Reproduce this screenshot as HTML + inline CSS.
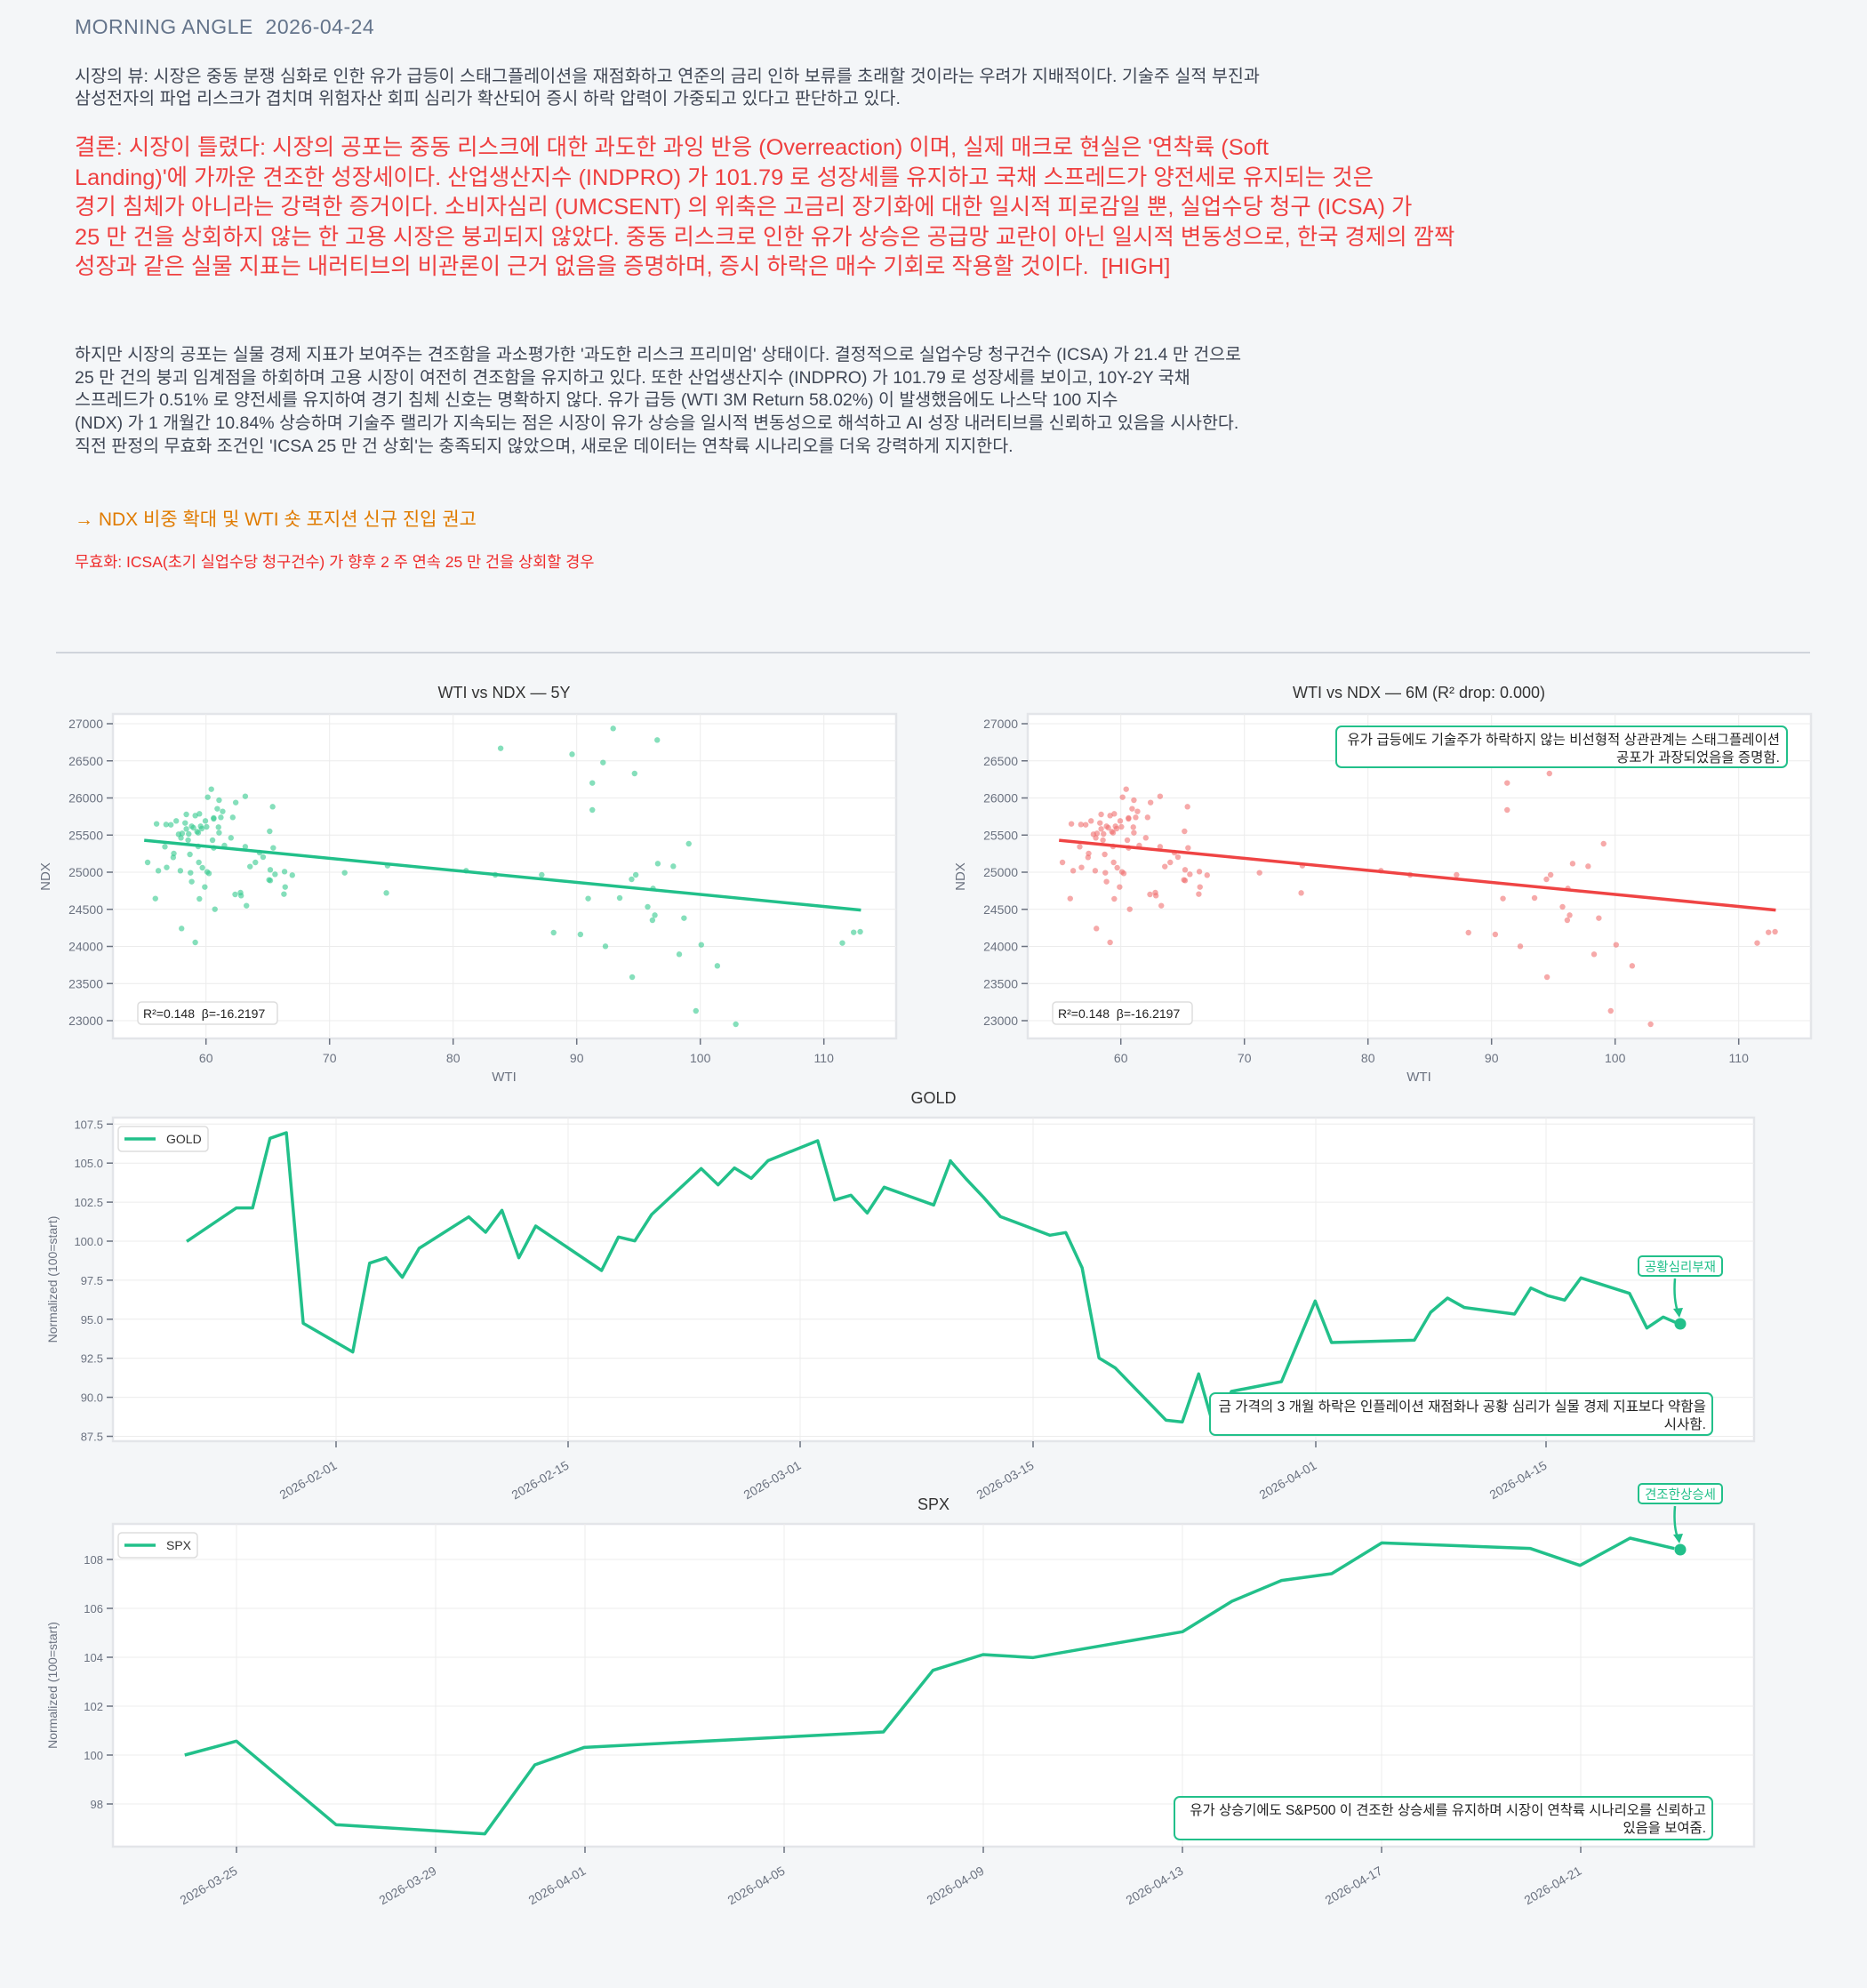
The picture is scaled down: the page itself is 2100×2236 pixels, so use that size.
<!DOCTYPE html>
<html><head><meta charset="utf-8"><style>
html,body{margin:0;padding:0;background:#f4f6f8;}
body{width:2100px;height:2236px;position:relative;overflow:hidden;font-family:"Liberation Sans","Noto Sans CJK KR",sans-serif;}
.t{position:absolute;white-space:nowrap;}
#title{left:84px;top:17px;font-size:23px;color:#64748b;letter-spacing:0.5px;}
#p1{left:84px;top:74px;font-size:19.6px;line-height:25px;color:#3f4654;}
#red{left:84px;top:150px;font-size:25.4px;line-height:33.5px;color:#ef4040;}
#p2{left:84px;top:387px;font-size:19.5px;line-height:25.7px;color:#3f4654;}
#or{left:84px;top:568px;font-size:21px;color:#e07b00;}
#inv{left:84px;top:619px;font-size:17.5px;color:#ef2b2b;}
svg text{font-family:"Liberation Sans","Noto Sans CJK KR",sans-serif;}
</style></head><body>
<div class="t" id="title">MORNING ANGLE&nbsp; 2026-04-24</div>
<div class="t" id="p1">시장의 뷰: 시장은 중동 분쟁 심화로 인한 유가 급등이 스태그플레이션을 재점화하고 연준의 금리 인하 보류를 초래할 것이라는 우려가 지배적이다. 기술주 실적 부진과<br>삼성전자의 파업 리스크가 겹치며 위험자산 회피 심리가 확산되어 증시 하락 압력이 가중되고 있다고 판단하고 있다.</div>
<div class="t" id="red">결론: 시장이 틀렸다: 시장의 공포는 중동 리스크에 대한 과도한 과잉 반응 (Overreaction) 이며, 실제 매크로 현실은 '연착륙 (Soft<br>Landing)'에 가까운 견조한 성장세이다. 산업생산지수 (INDPRO) 가 101.79 로 성장세를 유지하고 국채 스프레드가 양전세로 유지되는 것은<br>경기 침체가 아니라는 강력한 증거이다. 소비자심리 (UMCSENT) 의 위축은 고금리 장기화에 대한 일시적 피로감일 뿐, 실업수당 청구 (ICSA) 가<br>25 만 건을 상회하지 않는 한 고용 시장은 붕괴되지 않았다. 중동 리스크로 인한 유가 상승은 공급망 교란이 아닌 일시적 변동성으로, 한국 경제의 깜짝<br>성장과 같은 실물 지표는 내러티브의 비관론이 근거 없음을 증명하며, 증시 하락은 매수 기회로 작용할 것이다.&nbsp; [HIGH]</div>
<div class="t" id="p2">하지만 시장의 공포는 실물 경제 지표가 보여주는 견조함을 과소평가한 '과도한 리스크 프리미엄' 상태이다. 결정적으로 실업수당 청구건수 (ICSA) 가 21.4 만 건으로<br>25 만 건의 붕괴 임계점을 하회하며 고용 시장이 여전히 견조함을 유지하고 있다. 또한 산업생산지수 (INDPRO) 가 101.79 로 성장세를 보이고, 10Y-2Y 국채<br>스프레드가 0.51% 로 양전세를 유지하여 경기 침체 신호는 명확하지 않다. 유가 급등 (WTI 3M Return 58.02%) 이 발생했음에도 나스닥 100 지수<br>(NDX) 가 1 개월간 10.84% 상승하며 기술주 랠리가 지속되는 점은 시장이 유가 상승을 일시적 변동성으로 해석하고 AI 성장 내러티브를 신뢰하고 있음을 시사한다.<br>직전 판정의 무효화 조건인 'ICSA 25 만 건 상회'는 충족되지 않았으며, 새로운 데이터는 연착륙 시나리오를 더욱 강력하게 지지한다.</div>
<div class="t" id="or">→ NDX 비중 확대 및 WTI 숏 포지션 신규 진입 권고</div>
<div class="t" id="inv">무효화: ICSA(초기 실업수당 청구건수) 가 향후 2 주 연속 25 만 건을 상회할 경우</div>
<svg id="s" width="2100" height="2236" style="position:absolute;left:0;top:0" xmlns="http://www.w3.org/2000/svg"></svg>
<script>
const S=document.getElementById('s');let h='';
const G='#22c08a',TK='#6b7280',GR='#ececec';
h+='<line x1="63" y1="734" x2="2036" y2="734" stroke="#cfd4db" stroke-width="2"/>';
function box(x1,y1,x2,y2){h+=`<rect x="${x1}" y="${y1}" width="${x2-x1}" height="${y2-y1}" fill="#fff" stroke="#e3e5e9" stroke-width="2.5"/>`;}
function txt(x,y,s,sz,col,anc,extra){h+=`<text x="${x}" y="${y}" font-size="${sz}" fill="${col}" text-anchor="${anc||'start'}" ${extra||''}>${s}</text>`;}
const pts=[[248,720],[263,590],[266,748],[261,842],[277,667],[280,737],[279,592],[287,593],[292,690],[291,703],[296,580],[303,748],[305,943],[300,625],[304,637],[306,622],[311,587],[313,558],[313,607],[316,645],[317,624],[319,693],[320,755],[322,785],[322,598],[325,603],[328,562],[331,616],[333,620],[333,666],[334,720],[335,556],[335,843],[337,598],[339,606],[340,738],[344,803],[345,580],[347,600],[348,752],[349,500],[351,757],[355,473],[357,645],[359,671],[359,570],[359,573],[361,878],[365,539],[367,601],[368,620],[368,510],[371,568],[374,548],[377,663],[388,637],[391,568],[395,828],[396,518],[404,822],[405,832],[412,497],[412,667],[414,866],[420,734],[429,720],[436,687],[442,702],[453,615],[454,745],[452,779],[454,781],[458,532],[459,671],[462,760],[477,827],[478,751],[479,803],[491,763],[328,990],[579,755],[649,823],[651,731],[783,748],[832,762],[841,335],[910,762],[930,957],[961,355],[975,963],[988,842],[995,452],[995,543],[1013,383],[1017,1003],[1030,268],[1041,840],[1061,777],[1062,1107],[1066,420],[1068,762],[1088,870],[1096,915],[1100,898],[1097,808],[1104,307],[1105,724],[1131,733],[1141,1030],[1149,908],[1157,657],[1169,1221],[1178,998],[1205,1069],[1236,1266],[1415,992],[1434,956],[1445,954]];
const excl=new Set(['841,335','961,355','1013,383','1030,268','1104,307']);
function scatter(off,col,lc,title,right){
 box(127+off,803,1008+off,1168);
 const X=v=>231.7+off+(v-60)*13.9, Y=v=>1148-(v-23000)*0.0835;
 for(let v=60;v<=110;v+=10){h+=`<line x1="${X(v)}" y1="803" x2="${X(v)}" y2="1168" stroke="${GR}"/><line x1="${X(v)}" y1="1168" x2="${X(v)}" y2="1175" stroke="${TK}" stroke-width="1.5"/>`;txt(X(v),1195,v,14,TK,'middle');}
 for(let v=23000;v<=27000;v+=500){h+=`<line x1="${127+off}" y1="${Y(v)}" x2="${1008+off}" y2="${Y(v)}" stroke="${GR}"/><line x1="${120+off}" y1="${Y(v)}" x2="${127+off}" y2="${Y(v)}" stroke="${TK}" stroke-width="1.5"/>`;txt(116+off,Y(v)+5,v,14,TK,'end');}
 for(const p of pts){if(right&&excl.has(p.join(',')))continue;h+=`<circle cx="${p[0]*0.6696+off}" cy="${730+p[1]/3}" r="3.2" fill="${col}" fill-opacity="0.6"/>`;}
 h+=`<line x1="${X(55)}" y1="${Y(25430)}" x2="${X(113)}" y2="${Y(24490)}" stroke="${lc}" stroke-width="3.5"/>`;
 h+=`<rect x="${155+off}" y="1127" width="157" height="25" rx="4" fill="#fff" stroke="#ddd" stroke-width="1.5"/>`;
 txt(161+off,1145,'R²=0.148&#160; β=-16.2197',14,'#222');
 txt(567+off,785,title,18,'#333','middle');
 txt(567+off,1216,'WTI',15,TK,'middle');
 txt(56+off,986,'NDX',15,TK,'middle',`transform="rotate(-90 ${56+off} 986)"`);
}
scatter(0,'#34c98e',G,'WTI vs NDX — 5Y',false);
scatter(1029,'#f07070','#ef4444','WTI vs NDX — 6M (R² drop: 0.000)',true);
h+='<rect x="1503" y="817" width="507" height="46" rx="6" fill="#fff" stroke="'+G+'" stroke-width="2"/>';
txt(2002,837,'유가 급등에도 기술주가 하락하지 않는 비선형적 상관관계는 스태그플레이션',15.5,'#222','end');
txt(2002,857,'공포가 과장되었음을 증명함.',15.5,'#222','end');
function lchart(y1,y2,title,yt,ymap,xt,path,leg,legw){
 box(127,y1,1973,y2);
 for(const [x,l] of xt){h+=`<line x1="${x}" y1="${y1}" x2="${x}" y2="${y2}" stroke="${GR}"/><line x1="${x}" y1="${y2}" x2="${x}" y2="${y2+7}" stroke="${TK}" stroke-width="1.5"/>`;txt(x+2,y2+30,l,14,TK,'end',`transform="rotate(-30 ${x+2} ${y2+30})"`);}
 for(const [v,l] of yt){const y=ymap(v);h+=`<line x1="127" y1="${y}" x2="1973" y2="${y}" stroke="${GR}"/><line x1="120" y1="${y}" x2="127" y2="${y}" stroke="${TK}" stroke-width="1.5"/>`;txt(116,y+5,l,13,TK,'end');}
 h+=`<polyline points="${path.map(p=>p.join(',')).join(' ')}" fill="none" stroke="${G}" stroke-width="3.5" stroke-linejoin="round"/>`;
 const ly=y1+15;
 h+=`<rect x="133" y="${ly-5}" width="${legw}" height="28" rx="4" fill="#fff" stroke="#ddd" stroke-width="1.5"/><line x1="140" y1="${ly+9}" x2="175" y2="${ly+9}" stroke="${G}" stroke-width="3.5"/>`;
 txt(187,ly+14,leg,14,'#333');
 txt(1050,y1-16,title,18,'#333','middle');
 const cy=(y1+y2)/2;txt(64,cy,'Normalized (100=start)',14,TK,'middle',`transform="rotate(-90 64 ${cy})"`);
}
const g3=[[147,439],[238,326],[268,326],[300,91],[330,72],[361,715],[452,812],[483,512],[513,494],[543,560],[574,462],[665,356],[696,408],[726,334],[757,494],[788,387],[909,537],[940,424],[970,437],[1001,348],[1092,193],[1123,248],[1153,191],[1184,226],[1215,166],[1306,99],[1337,299],[1367,283],[1397,343],[1428,256],[1519,316],[1550,167]].map(p=>[120+p[0]/1.633,1250+p[1]/3]);
const g4=[[15,167],[45,228],[78,290],[110,355],[204,418],[234,409],[265,528],[297,832],[328,866],[424,1042],[455,1048],[486,886],[517,1080],[548,945],[643,912],[707,640],[738,780],[895,772],[926,678],[958,630],[990,662],[1085,684],[1116,596],[1148,622],[1180,637],[1211,562],[1303,614],[1336,731],[1367,694],[1390,712]].map(p=>[1060+p[0]/1.686,1250+p[1]/3]);
const gy=v=>1264.3+(107.5-v)*17.56;
const gyt=[];for(let v=87.5;v<=107.6;v+=2.5)gyt.push([v,v.toFixed(1)]);
lchart(1257,1621,'GOLD',gyt,gy,[[378,'2026-02-01'],[639,'2026-02-15'],[900,'2026-03-01'],[1162,'2026-03-15'],[1480,'2026-04-01'],[1739,'2026-04-15']],g3.concat(g4),'GOLD',101);
const s5=[[148,912],[246,865],[435,1147],[717,1178],[812,945],[906,886],[1473,834]].map(p=>[120+p[0]*0.5931,1670+p[1]/3]);
const s6=[[-1,626],[93,573],[187,583],[467,496],[560,393],[653,323],[747,300],[841,196],[1120,215],[1213,272],[1307,180],[1390,215]].map(p=>[1050+p[0]*0.5995,1670+p[1]/3]);
const sy=v=>1754+(108-v)*27.5;const syt=[];for(let v=98;v<=108;v+=2)syt.push([v,v]);
lchart(1714,2077,'SPX',syt,sy,[[266,'2026-03-25'],[490,'2026-03-29'],[658,'2026-04-01'],[882,'2026-04-05'],[1106,'2026-04-09'],[1330,'2026-04-13'],[1554,'2026-04-17'],[1778,'2026-04-21']],s5.concat(s6),'SPX',89);
h+=`<circle cx="1890" cy="1489" r="6.5" fill="${G}"/><circle cx="1890" cy="1743" r="6.5" fill="${G}"/>`;
h+=`<path d="M1884 1438 Q1882 1462 1888 1478" fill="none" stroke="${G}" stroke-width="2.5"/><path d="M1882 1472 L1889 1482 L1893 1471 Z" fill="${G}"/>`;
h+=`<path d="M1884 1694 Q1882 1718 1888 1732" fill="none" stroke="${G}" stroke-width="2.5"/><path d="M1882 1726 L1889 1736 L1893 1725 Z" fill="${G}"/>`;
h+=`<rect x="1843" y="1413" width="94" height="22" rx="4" fill="#fff" stroke="${G}" stroke-width="2"/>`;txt(1890,1430,'공황심리부재',14.5,G,'middle');
h+=`<rect x="1843" y="1669" width="94" height="22" rx="4" fill="#fff" stroke="${G}" stroke-width="2"/>`;txt(1890,1686,'견조한상승세',14.5,G,'middle');
h+=`<rect x="1361" y="1567" width="565" height="47" rx="6" fill="#fff" stroke="${G}" stroke-width="2"/>`;
txt(1919,1587,'금 가격의 3 개월 하락은 인플레이션 재점화나 공황 심리가 실물 경제 지표보다 약함을',15.6,'#222','end');txt(1919,1607,'시사함.',15.6,'#222','end');
h+=`<rect x="1321" y="2021" width="605" height="48" rx="6" fill="#fff" stroke="${G}" stroke-width="2"/>`;
txt(1919,2041,'유가 상승기에도 S&amp;P500 이 견조한 상승세를 유지하며 시장이 연착륙 시나리오를 신뢰하고',15.4,'#222','end');txt(1919,2061,'있음을 보여줌.',15.4,'#222','end');
S.innerHTML=h;
</script>
</body></html>
